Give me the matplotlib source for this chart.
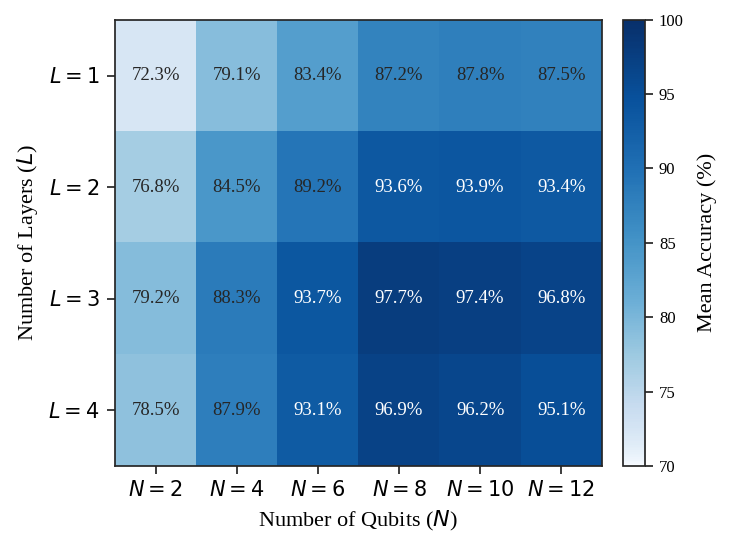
import numpy as np
import matplotlib
matplotlib.use('Agg')
import matplotlib.pyplot as plt
from matplotlib.colors import ListedColormap

plt.rcParams['font.family'] = ['Liberation Serif', 'DejaVu Serif']
plt.rcParams['mathtext.fontset'] = 'dejavusans'

qubits = [2, 4, 6, 8, 10, 12]
layers = [1, 2, 3, 4]
acc = np.array([
    [72.3, 79.1, 83.4, 87.2, 87.8, 87.5],
    [76.8, 84.5, 89.2, 93.6, 93.9, 93.4],
    [79.2, 88.3, 93.7, 97.7, 97.4, 96.8],
    [78.5, 87.9, 93.1, 96.9, 96.2, 95.1],
])

dark = '#262626'
# Blues, stretched towards the dark end
cmap = ListedColormap(plt.cm.Blues(np.linspace(0, 1, 256) ** 0.7))

fig = plt.figure(figsize=(7.33, 5.5), dpi=100)
ax = fig.add_axes([0.157, 0.153, 0.664, 0.811])
cax = fig.add_axes([0.850, 0.153, 0.030, 0.811])

im = ax.imshow(acc, cmap=cmap, vmin=70, vmax=100, aspect='auto')
for i in range(acc.shape[0]):
    for j in range(acc.shape[1]):
        v = acc[i, j]
        ax.text(j, i, f'{v:.1f}%', ha='center', va='center', fontsize=13.5,
                color='white' if v > 90 else dark)

ax.set_xticks(range(len(qubits)))
ax.set_xticklabels([f'$N = {n}$' for n in qubits], fontsize=15)
ax.set_yticks(range(len(layers)))
ax.set_yticklabels([f'$L = {l}$' for l in layers], fontsize=15)
ax.set_xlabel('Number of Qubits ($N$)', fontsize=16, labelpad=6)
ax.set_ylabel('Number of Layers ($L$)', fontsize=16, labelpad=6)
for s in ax.spines.values():
    s.set_color(dark)
    s.set_linewidth(1.25)
ax.tick_params(color=dark, width=1.25, length=6, pad=5)

cb = fig.colorbar(im, cax=cax)
cb.set_label('Mean Accuracy (%)', fontsize=16, labelpad=10)
cb.ax.tick_params(labelsize=12, color=dark, width=1.25, length=6, pad=4)
cb.outline.set_edgecolor(dark)
cb.outline.set_linewidth(1.25)

fig.savefig('out.png')
